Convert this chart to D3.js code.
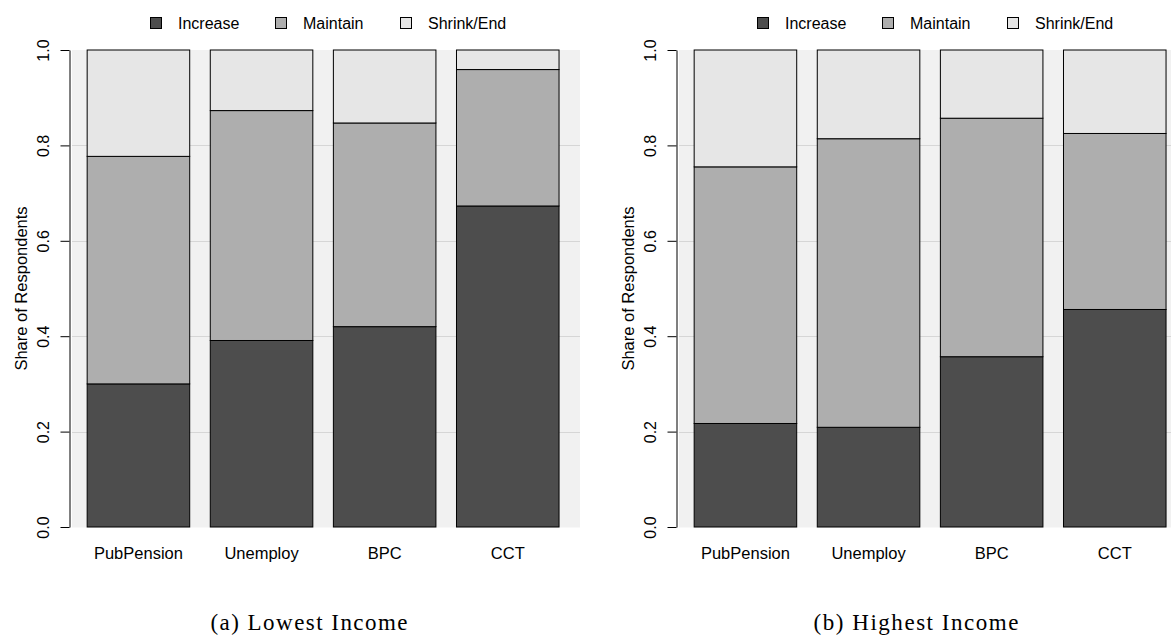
<!DOCTYPE html>
<html>
<head>
<meta charset="utf-8">
<script src="https://cdn.jsdelivr.net/npm/d3@7"></script>
<style>
  body { margin: 0; background: #fff; }
  text { font-family: "Liberation Sans", Arial, sans-serif; }
</style>
</head>
<body>
<svg width="1171" height="635"></svg>
<script>
// values
var categories = ["PubPension", "Unemploy", "BPC", "CCT"];
var keys = ["Increase", "Maintain", "Shrink/End"];

var lowIncrease = [0.300, 0.391, 0.420, 0.673];
var lowMaintain = [0.477, 0.482, 0.427, 0.286];
var lowShrink   = [0.223, 0.127, 0.153, 0.041];

var highIncrease = [0.217, 0.209, 0.357, 0.456];
var highMaintain = [0.538, 0.605, 0.500, 0.369];
var highShrink   = [0.245, 0.186, 0.143, 0.175];

var yTicks = [0, 0.2, 0.4, 0.6, 0.8, 1.0];
var captions = ["(a) Lowest Income", "(b) Highest Income"];

var svg = d3.select("svg");

var z = d3.scaleOrdinal()
    .domain(keys)
    .range(["#4d4d4d", "#aeaeae", "#e6e6e6"]);

var y = d3.scaleLinear()
    .domain([0, 1])
    .range([527, 50]);

function makeRows(inc, mnt, shr) {
  return categories.map(function(c, i) {
    var d = {cat: c};
    d[keys[0]] = inc[i];
    d[keys[1]] = mnt[i];
    d[keys[2]] = shr[i];
    return d;
  });
}

function drawPanel(ox, rows, caption, capWidth) {
  var g = svg.append("g").attr("transform", "translate(" + ox + ",0)");

  var x = d3.scaleBand()
      .domain(categories)
      .range([-2.4, 510.6])
      .paddingInner(0.167)
      .paddingOuter(0.167);

  // grey plot background
  g.append("rect")
      .attr("x", 3)
      .attr("y", y(1))
      .attr("width", 508)
      .attr("height", y(0) - y(1) + 0.5)
      .attr("fill", "#f1f1f1");

  g.append("g")
    .selectAll("line")
    .data(yTicks.slice(1, -1))
    .enter().append("line")
      .attr("x1", 3)
      .attr("x2", 511)
      .attr("y1", function(d) { return Math.round(y(d)) + 0.5; })
      .attr("y2", function(d) { return Math.round(y(d)) + 0.5; })
      .attr("stroke", "#d6d6d6")
      .attr("stroke-width", 1);

  g.append("g")
    .selectAll("g")
    .data(d3.stack().keys(keys)(rows))
    .enter().append("g")
      .attr("fill", function(d) { return z(d.key); })
    .selectAll("rect")
    .data(function(d) { return d; })
    .enter().append("rect")
      .attr("x", function(d) { return x(d.data.cat); })
      .attr("y", function(d) { return y(d[1]); })
      .attr("width", x.bandwidth())
      .attr("height", function(d) { return y(d[0]) - y(d[1]); })
      .attr("stroke", "#000")
      .attr("stroke-width", 1);

  var ax = g.append("g")
      .attr("transform", "translate(0.5,0)")
      .call(d3.axisLeft(y).tickValues(yTicks).tickFormat(d3.format(".1f")).tickSize(9).tickSizeOuter(0));
  ax.select(".domain").attr("stroke", "#000");
  ax.selectAll(".tick line").attr("stroke", "#000");
  ax.selectAll(".tick text")
      .attr("transform", "rotate(-90)")
      .attr("x", 0)
      .attr("y", -21)
      .attr("dy", 0)
      .attr("text-anchor", "middle")
      .attr("fill", "#000")
      .style("font-size", "16px")
      .style("font-family", "'Liberation Sans', Arial, sans-serif");

  g.append("text")
      .attr("transform", "translate(-42," + ((y(0) + y(1)) / 2) + ") rotate(-90)")
      .attr("text-anchor", "middle")
      .style("font-size", "16.5px")
      .text("Share of Respondents");

  g.append("g")
    .selectAll("text")
    .data(categories)
    .enter().append("text")
      .attr("x", function(d) { return x(d) + x.bandwidth() / 2; })
      .attr("y", 559)
      .attr("text-anchor", "middle")
      .style("font-size", "16.5px")
      .text(function(d) { return d; });

  var legend = g.append("g")
    .selectAll("g")
    .data(keys)
    .enter().append("g")
      .attr("transform", function(d, i) { return "translate(" + (81 + i * 125) + ",23)"; });

  legend.append("rect")
      .attr("x", 0.5)
      .attr("y", -5.5)
      .attr("width", 11)
      .attr("height", 11)
      .attr("fill", z)
      .attr("stroke", "#000");

  legend.append("text")
      .attr("x", 28)
      .attr("y", 0)
      .attr("dy", "0.35em")
      .style("font-size", "16px")
      .text(function(d) { return d; });

  g.append("text")
      .attr("x", 240)
      .attr("y", 630)
      .attr("text-anchor", "middle")
      .attr("textLength", capWidth)
      .attr("lengthAdjust", "spacing")
      .style("font-family", "'Liberation Serif', 'Times New Roman', serif")
      .style("font-size", "23px")
      .text(caption);
}

drawPanel(69, makeRows(lowIncrease, lowMaintain, lowShrink), captions[0], 197);
drawPanel(676, makeRows(highIncrease, highMaintain, highShrink), captions[1], 205);
</script>
</body>
</html>
